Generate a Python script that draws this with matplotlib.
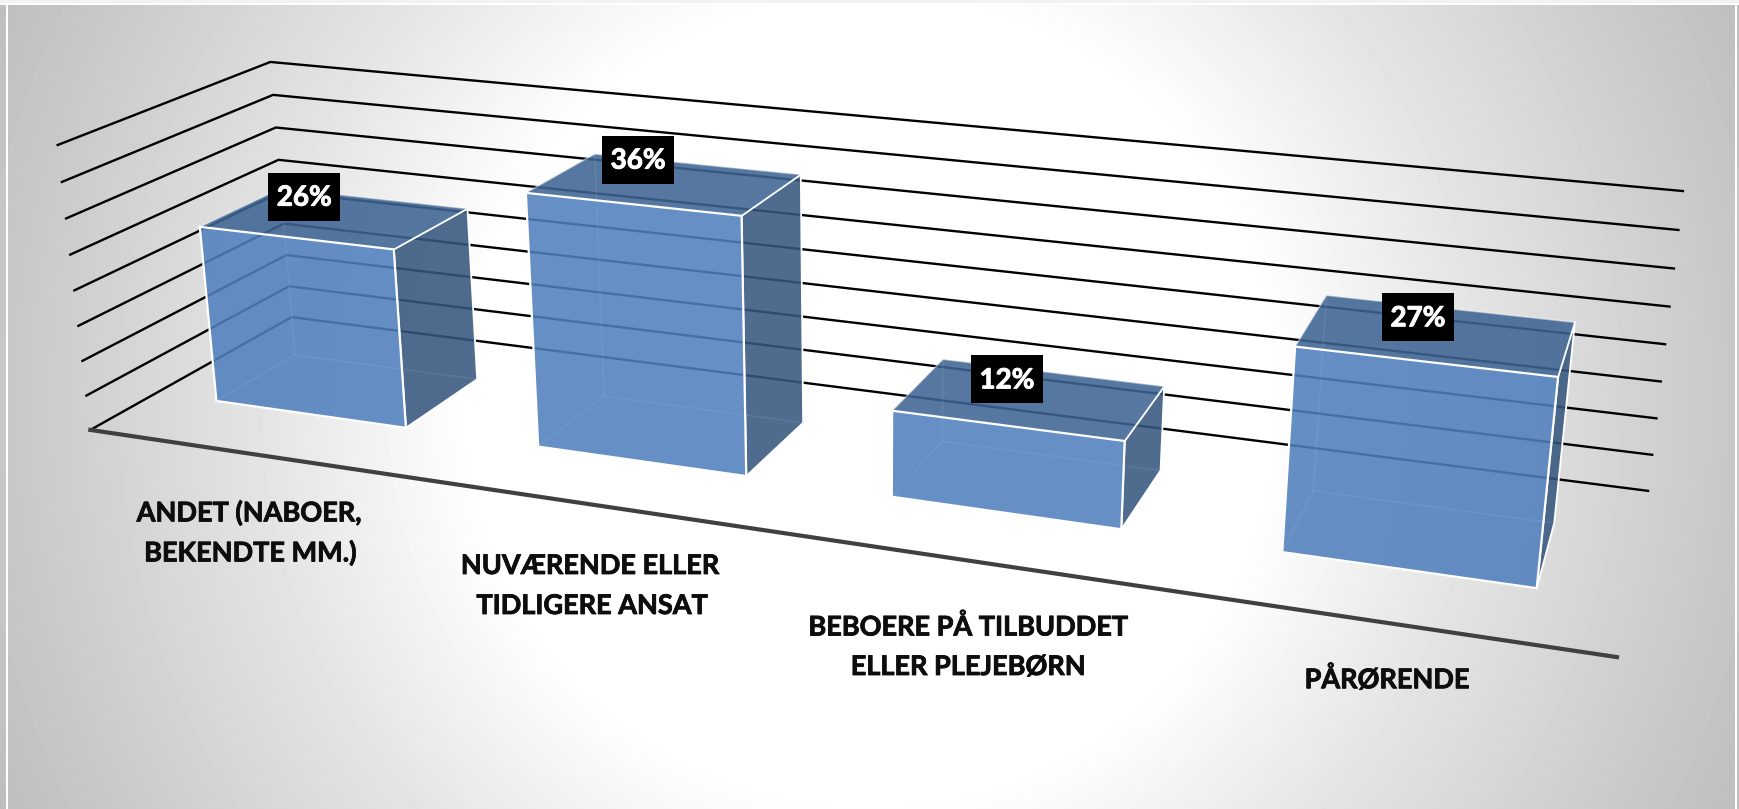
import numpy as np
import matplotlib
matplotlib.use("Agg")
import matplotlib.pyplot as plt
import matplotlib.patheffects as pe
from matplotlib.patches import Polygon, Rectangle

plt.rcParams["font.family"] = ["Lato", "DejaVu Sans"]

# Data
categories = [["ANDET (NABOER,", "BEKENDTE MM.)"],
              ["NUVÆRENDE ELLER", "TIDLIGERE ANSAT"],
              ["BEBOERE PÅ TILBUDDET", "ELLER PLEJEBØRN"],
              ["PÅRØRENDE"]]
values = [26, 36, 12, 27]
labels = ["26%", "36%", "12%", "27%"]

W, H = 1739, 809
AXIS_TOP = 40.8
N_GRID = 8
BAR_X = (0.195, 0.795)
BAR_Y = (0.305, 0.708)

# label centres in pixels, one per line
cat_xy = [[(249, 513), (250, 553)],
          [(590, 566), (592, 606)],
          [(968, 627), (968, 667)],
          [(1387, 679)]]
# black box offset from the middle of the bar top
label_dx = [-31, -27, -23, -19]
label_dy = [-21, -24, -19, -17]

# Camera of the fake 3D chart, fitted on the corners of the walls
calib_3d = [(0, 0, 0), (4, 0, 0), (0, 1, 0), (4, 1, 0),
            (0, 0, AXIS_TOP), (0, 1, AXIS_TOP), (4, 1, AXIS_TOP)]
calib_px = [(90, 430), (1617, 657), (292, 317), (1648, 491),
            (58, 145), (270, 62), (1683, 191)]
A = []
for (x, y, z), (u, v) in zip(calib_3d, calib_px):
    A.append([x, y, z, 1, 0, 0, 0, 0, -u*x, -u*y, -u*z, -u])
    A.append([0, 0, 0, 0, x, y, z, 1, -v*x, -v*y, -v*z, -v])
P = np.linalg.svd(np.array(A, float))[2][-1].reshape(3, 4)


def proj(x, y, z):
    r = P @ np.array([x, y, z, 1.0])
    return r[0]/r[2], r[1]/r[2]


fig = plt.figure(figsize=(W/100, H/100), dpi=100)
ax = fig.add_axes([0, 0, 1, 1])
ax.set_xlim(0, W)
ax.set_ylim(H, 0)
ax.axis("off")

# Background: radial grey gradient
xx, yy = np.meshgrid(np.arange(W), np.arange(H))
dist = np.hypot(xx - 870, yy - 400)
grey = np.interp(dist, [0, 400, 600, 700, 860, 1000], [255, 255, 229, 218, 200, 186])
ax.imshow(grey, cmap="gray", vmin=0, vmax=255, extent=(0, W, H, 0), aspect="auto", zorder=0)
ax.add_patch(Rectangle((0, 0), W, 3, fc="#f2f2f2", ec="none", zorder=1))
ax.add_patch(Rectangle((0, 3), W, 2, fc="white", ec="none", zorder=1))
ax.add_patch(Rectangle((6, 3), 2, H, fc="white", ec="none", zorder=1))
ax.add_patch(Rectangle((1735, 3), 2, H, fc="white", ec="none", zorder=1))

# Gridlines on side wall and back wall
for z in np.linspace(0, AXIS_TOP, N_GRID + 1):
    pts = [proj(0, 0, z), proj(0, 1, z), proj(4, 1, z)]
    ax.plot(*zip(*pts), color="black", lw=1.7, solid_joinstyle="miter", zorder=2)
ax.plot(*zip(proj(0, 0, 0), proj(4, 0, 0)), color="#404040", lw=3, zorder=3)

# Bars
for i, val in enumerate(values):
    x0, x1 = i + BAR_X[0], i + BAR_X[1]
    y0, y1 = BAR_Y

    # hidden edges, shine through the front
    hidden = [[(x0, y1, 0), (x0, y1, val)], [(x0, y0, 0), (x0, y1, 0)], [(x0, y1, 0), (x1, y1, 0)]]

    side = [proj(x1, y0, 0), proj(x1, y1, 0), proj(x1, y1, val), proj(x1, y0, val)]
    top = [proj(x0, y0, val), proj(x1, y0, val), proj(x1, y1, val), proj(x0, y1, val)]
    front = [proj(x0, y0, 0), proj(x1, y0, 0), proj(x1, y0, val), proj(x0, y0, val)]
    ax.add_patch(Polygon(side, closed=True, fc=(0.212, 0.341, 0.498, 0.88), ec="white", lw=1.3, zorder=4))
    ax.add_patch(Polygon(top, closed=True, fc=(0.243, 0.392, 0.573, 0.88), ec="none", zorder=5))
    for a, b, al in [(top[0], top[3], 0.45), (top[3], top[2], 0.45), (top[2], top[1], 0.95)]:
        ax.plot(*zip(a, b), color="white", lw=1.2, alpha=al, zorder=5)
    ax.add_patch(Polygon(front, closed=True, fc=(0.314, 0.502, 0.741, 0.88), ec="white", lw=1.6, zorder=6))
    for a, b in hidden:
        ax.plot(*zip(proj(*a), proj(*b)), color="#a9c3e4", lw=1.0, alpha=0.15, zorder=7)

    # data label in a black box
    tx, ty = proj(i + 0.495, (y0 + y1)/2, val)
    tx, ty = tx + label_dx[i], ty + label_dy[i]
    ax.add_patch(Rectangle((tx - 36, ty - 24), 72, 48, fc="black", ec="none", zorder=8))
    t = ax.text(tx, ty + 1, labels[i], color="white", fontsize=20, fontweight="bold",
                ha="center", va="center", zorder=9)
    t.set_path_effects([pe.withStroke(linewidth=0.7, foreground="white")])

# Category labels
for lines, pos in zip(categories, cat_xy):
    for line, (lx, ly) in zip(lines, pos):
        t = ax.text(lx, ly, line, color="#0d0d0d", fontsize=19.5, fontweight="bold",
                    ha="center", va="center", zorder=9)
        t.set_path_effects([pe.withStroke(linewidth=0.6, foreground="#0d0d0d")])

fig.savefig("out.png", dpi=100)
